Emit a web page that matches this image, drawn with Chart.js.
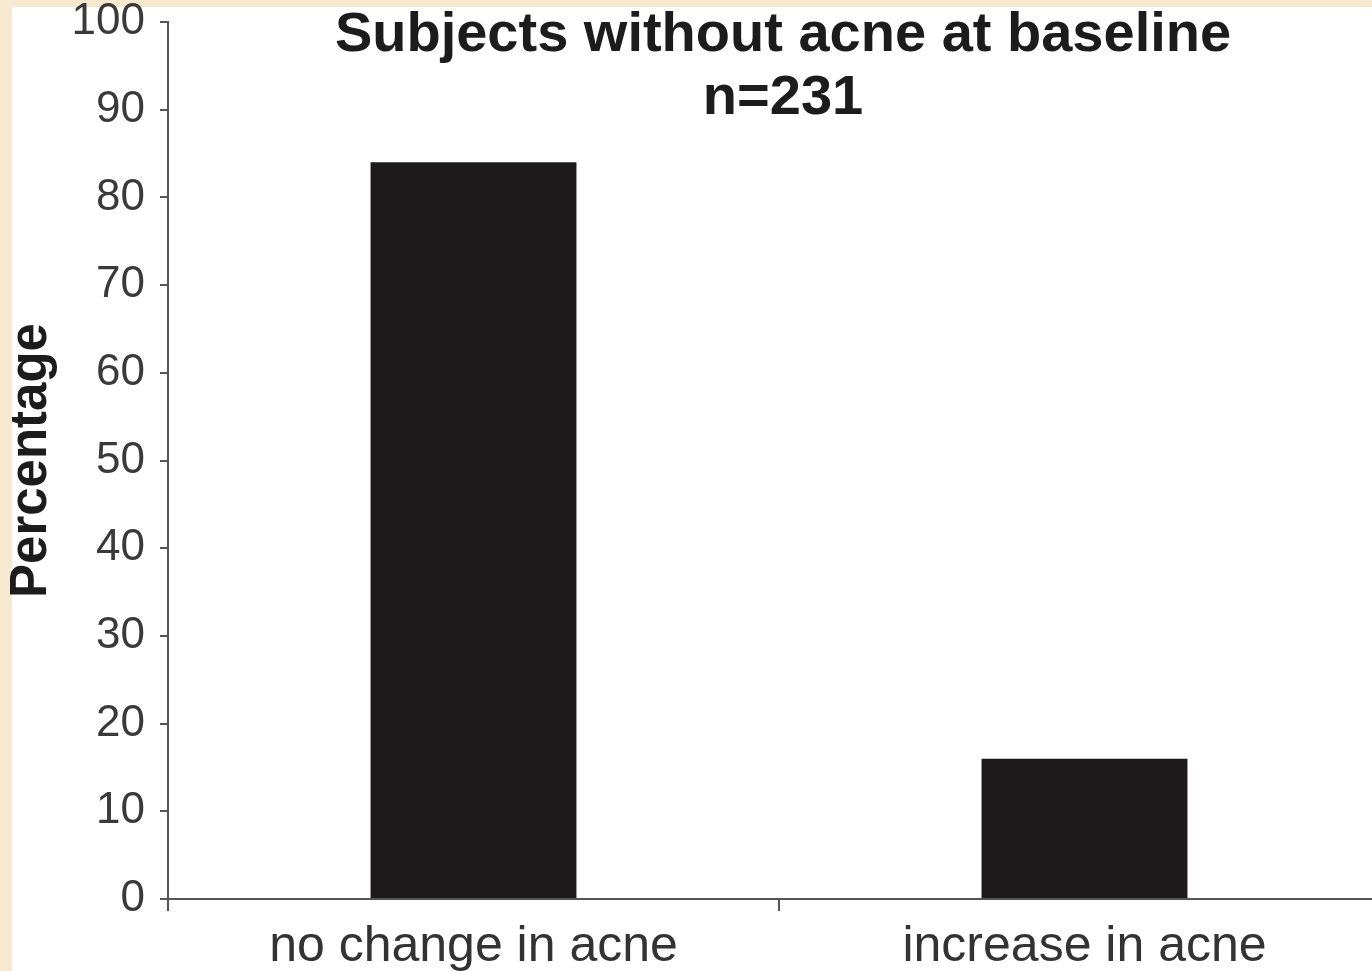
<!DOCTYPE html>
<html>
<head>
<meta charset="utf-8">
<script src="https://cdn.jsdelivr.net/npm/chart.js@4"></script>
<style>
  html, body { margin: 0; padding: 0; background: #f7e9cf; }
  #wrap { position: relative; width: 1372px; height: 971px; overflow: hidden; }
  #wrap canvas { position: absolute; left: 0; top: 0; }
</style>
</head>
<body>
<div id="wrap"><canvas id="acneChart" width="1400" height="1000"></canvas></div>
<script>
// Chart values
const categories = ['no change in acne', 'increase in acne'];
const percentages = [84, 16];
const titleLines = ['Subjects without acne at baseline', 'n=231'];
const yAxisTitle = 'Percentage';
const yMin = 0;
const yMax = 100;
const yStep = 10;

// cream frame + white panel, then the two-line title over the plot
const framePlugin = {
    id: 'frame',
    beforeDraw(chart) {
        const ctx = chart.ctx;
        ctx.save();
        ctx.fillStyle = '#f7e9cf';
        ctx.fillRect(0, 0, chart.width, chart.height);
        ctx.fillStyle = '#ffffff';
        ctx.fillRect(12, 7, chart.width - 12, chart.height - 7);
        ctx.restore();
    },
    afterDraw(chart) {
        const ctx = chart.ctx;
        ctx.save();
        ctx.fillStyle = '#1c1c1c';
        ctx.font = 'bold 56px "Liberation Sans", Arial, sans-serif';
        ctx.textAlign = 'center';
        ctx.textBaseline = 'middle';
        ctx.fillText(titleLines[0], 783, 36);
        ctx.fillText(titleLines[1], 783, 99);
        ctx.restore();
    }
};

function initializeAcneChart() {
    const ctx = document.getElementById('acneChart').getContext('2d');
    new Chart(ctx, {
        type: 'bar',
        data: {
            labels: categories,
            datasets: [{
                data: percentages,
                backgroundColor: '#1e1a1b',
                borderWidth: 0,
                categoryPercentage: 1,
                barPercentage: 0.337
            }]
        },
        options: {
            responsive: false,
            animation: false,
            layout: { padding: { top: 0, right: 10, left: 0, bottom: 0 } },
            plugins: {
                legend: { display: false },
                tooltip: { enabled: false },
                title: { display: false }
            },
            scales: {
                x: {
                    grid: {
                        offset: true,
                        drawOnChartArea: false,
                        drawTicks: true,
                        tickLength: 12,
                        color: '#555',
                        lineWidth: 2
                    },
                    border: { color: '#555', width: 2 },
                    ticks: {
                        color: '#333',
                        padding: 6,
                        font: { family: '"Liberation Sans", Arial, sans-serif', size: 50 }
                    },
                    afterFit(scale) { scale.height = 101; }
                },
                y: {
                    min: yMin,
                    max: yMax,
                    grid: {
                        drawOnChartArea: false,
                        drawTicks: true,
                        tickLength: 8,
                        color: '#555',
                        lineWidth: 2
                    },
                    border: { color: '#555', width: 2 },
                    ticks: {
                        stepSize: yStep,
                        color: '#3a3a3a',
                        padding: 15,
                        font: { family: '"Liberation Sans", Arial, sans-serif', size: 44, lineHeight: 1 }
                    },
                    title: {
                        display: true,
                        text: yAxisTitle,
                        color: '#1c1c1c',
                        padding: { top: 1, bottom: 0 },
                        font: { family: '"Liberation Sans", Arial, sans-serif', size: 51, weight: 'bold' }
                    },
                    afterFit(scale) {
                        scale.width = 168;
                        scale.paddingTop = 22;
                        scale.paddingBottom = 0;
                    }
                }
            }
        },
        plugins: [framePlugin]
    });
}

document.addEventListener('DOMContentLoaded', function() {
    initializeAcneChart();
});
</script>
</body>
</html>
